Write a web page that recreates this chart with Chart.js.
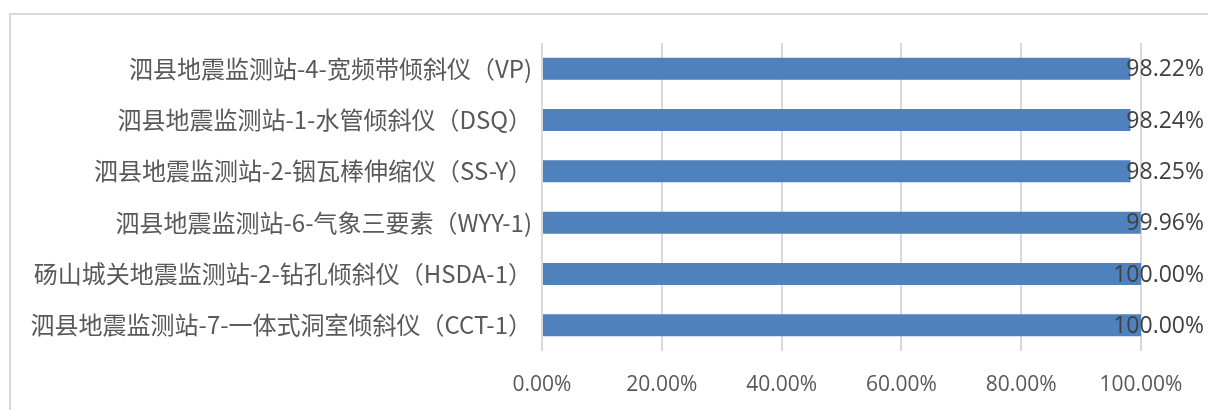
<!DOCTYPE html>
<html>
<head>
<meta charset="utf-8">
<script src="https://cdn.jsdelivr.net/npm/chart.js@4/dist/chart.umd.min.js"></script>
<style>
  html, body { margin: 0; padding: 0; background: #fff; }
  #wrap { width: 1208px; height: 410px; }
</style>
</head>
<body>
<div id="wrap"><canvas id="barChart" width="1208" height="410"></canvas></div>
<script>
// station names, top to bottom
const stations = [
    '泗县地震监测站-4-宽频带倾斜仪（VP)',
    '泗县地震监测站-1-水管倾斜仪（DSQ）',
    '泗县地震监测站-2-铟瓦棒伸缩仪（SS-Y）',
    '泗县地震监测站-6-气象三要素（WYY-1)',
    '砀山城关地震监测站-2-钻孔倾斜仪（HSDA-1）',
    '泗县地震监测站-7-一体式洞室倾斜仪（CCT-1）'
];
// completeness rate, percent
const rates = [98.22, 98.24, 98.25, 99.96, 100.00, 100.00];
const xTicks = [0, 20, 40, 60, 80, 100];

const latinFont = '"Open Sans", "Noto Sans CJK SC", sans-serif';

// value labels at the end of each bar (kept inside the canvas like Excel does)
const valueLabels = {
    id: 'valueLabels',
    afterDatasetsDraw(chart) {
        const ctx = chart.ctx;
        const meta = chart.getDatasetMeta(0);
        ctx.save();
        ctx.font = '23px ' + latinFont;
        ctx.fillStyle = '#404040';
        ctx.textBaseline = 'middle';
        ctx.textAlign = 'right';
        meta.data.forEach((bar, i) => {
            const txt = rates[i].toFixed(2) + '%';
            const w = ctx.measureText(txt).width;
            const right = Math.min(bar.x + 6 + w, chart.width - 4);
            ctx.fillText(txt, right, bar.y + 1);
        });
        ctx.restore();
    }
};

// light frame along the top and left like the chart border in the picture
const frame = {
    id: 'frame',
    beforeDraw(chart) {
        const ctx = chart.ctx;
        ctx.save();
        ctx.strokeStyle = '#d9d9d9';
        ctx.lineWidth = 2;
        ctx.beginPath();
        ctx.moveTo(10, chart.height);
        ctx.lineTo(10, 14);
        ctx.lineTo(chart.width, 14);
        ctx.stroke();
        ctx.restore();
    }
};

const config = {
    type: 'bar',
    data: {
        labels: stations,
        datasets: [{
            data: rates,
            backgroundColor: '#4f81bd',
            borderWidth: 0,
            barPercentage: 0.86,
            categoryPercentage: 0.5
        }]
    },
    options: {
        indexAxis: 'y',
        responsive: false,
        animation: false,
        layout: { padding: { top: 43, right: 67, left: 0, bottom: 0 } },
        plugins: {
            legend: { display: false },
            tooltip: { enabled: false }
        },
        scales: {
            x: {
                min: 0,
                max: 100,
                afterBuildTicks: scale => {
                    scale.ticks = xTicks.map(v => ({ value: v }));
                },
                afterFit: scale => { scale.height = 59; },
                grid: { color: '#d9d9d9', lineWidth: 2, drawTicks: false },
                border: { display: false },
                ticks: {
                    padding: 21,
                    color: '#595959',
                    font: { family: latinFont, size: 21 },
                    callback: v => v.toFixed(2) + '%'
                }
            },
            y: {
                afterFit: scale => { scale.width = 542; },
                grid: { display: false, drawTicks: false },
                border: { display: false },
                ticks: {
                    padding: 10,
                    color: '#595959',
                    font: { family: '"Noto Sans CJK SC", sans-serif', size: 24 }
                }
            }
        }
    },
    plugins: [frame, valueLabels]
};

new Chart(document.getElementById('barChart'), config);
</script>
</body>
</html>
